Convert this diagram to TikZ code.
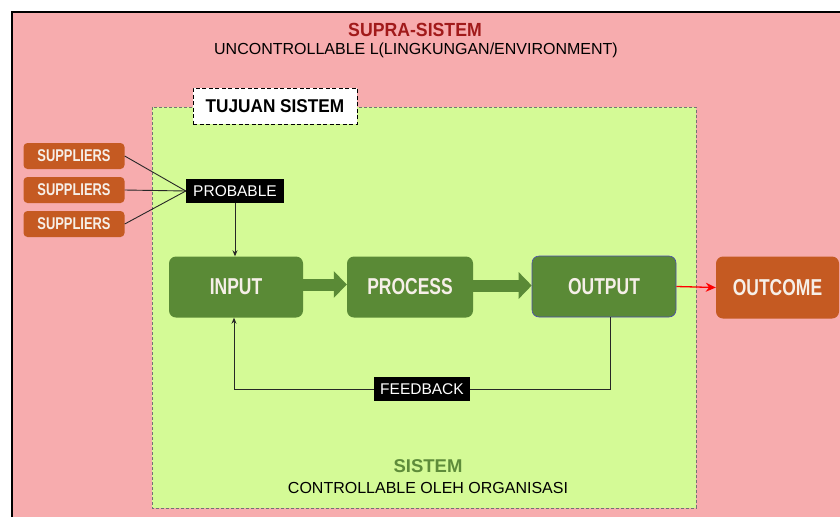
\documentclass[tikz,border=0pt]{standalone}
\usepackage{fontspec}
\setmainfont{Liberation Sans}
\newfontfamily\cond[FakeStretch=0.76]{Liberation Sans}
\newfontfamily\condb[FakeStretch=0.93]{Liberation Sans}
\usetikzlibrary{arrows.meta}
\definecolor{pinkbg}{HTML}{F7ACAE}
\definecolor{limebg}{HTML}{D4FA96}
\definecolor{orangebox}{HTML}{C55A22}
\definecolor{greenbox}{HTML}{5A8A36}
\definecolor{darkred}{HTML}{A11A1A}
\definecolor{sisgreen}{HTML}{5E8C3A}
\definecolor{boxtext}{HTML}{F6EFE8}
\tikzset{
  supbox/.style={fill=orangebox, rounded corners=4pt, inner sep=0pt, minimum width=101pt, minimum height=26pt,
    text=boxtext, font=\cond\bfseries\fontsize{17}{19}\selectfont},
  mainbox/.style={fill=greenbox, rounded corners=7pt, inner sep=0pt, minimum height=61pt,
    text=boxtext, font=\cond\bfseries\fontsize{23}{26}\selectfont},
  blackbox/.style={fill=black, inner sep=0pt, minimum height=24pt, text=white,
    font=\fontsize{15.5}{18}\selectfont},
  conn/.style={draw=black!85, line width=0.9pt},
  bigarrow/.style={draw=greenbox, line width=12pt, -{Triangle[length=13pt,width=26pt]}},
}
\begin{document}
\begin{tikzpicture}[x=1pt,y=-1pt]
\useasboundingbox (0,0) rectangle (840,517);
\fill[white] (0,0) rectangle (840,517);
% supra-system frame
\fill[pinkbg] (12,12) rectangle (840,517);
\draw[line width=2pt] (12,517) -- (12,12) -- (840,12);
\node[font=\condb\bfseries\fontsize{19}{22}\selectfont, text=darkred] (supra) at (415,30) {SUPRA-SISTEM};
\node[font=\fontsize{16}{18}\selectfont] (unc) at (416,50) {UNCONTROLLABLE L(LINGKUNGAN/ENVIRONMENT)};
% system area
\fill[limebg] (152,107) rectangle (696,508);
\draw[gray!90!black, dashed, line width=0.9pt, dash pattern=on 3pt off 2pt] (152,107) rectangle (696,508);
\node[draw=black, dashed, dash pattern=on 4pt off 2.5pt, line width=1pt, fill=white, inner sep=0pt,
  minimum width=164pt, minimum height=36pt, font=\condb\bfseries\fontsize{18.5}{22}\selectfont] (tujuan) at (275,106) {TUJUAN SISTEM};
\node[font=\bfseries\fontsize{18.5}{22}\selectfont, text=sisgreen] (sis) at (428,466) {SISTEM};
\node[font=\fontsize{16}{18}\selectfont] (ctrl) at (428,488) {CONTROLLABLE OLEH ORGANISASI};
% suppliers
\node[supbox] (s1) at (74,156) {SUPPLIERS};
\node[supbox] (s2) at (74,190) {SUPPLIERS};
\node[supbox] (s3) at (74,224) {SUPPLIERS};
\node[blackbox, minimum width=98pt] (prob) at (235,191) {PROBABLE};
\draw[conn] (s1.east) -- (prob.west);
\draw[conn] (s2.east) -- (prob.west);
\draw[conn] (s3.east) -- (prob.west);
% main flow
\node[mainbox, minimum width=134pt] (inp) at (236,287) {INPUT};
\node[mainbox, minimum width=126pt] (proc) at (410,287) {PROCESS};
\node[mainbox, minimum width=144pt, draw=blue!40!gray, line width=0.6pt] (outp) at (604,286.5) {OUTPUT};
\node[mainbox, fill=orangebox, minimum width=123pt, minimum height=62pt] (outc) at (777.5,287.5) {OUTCOME};
\draw[conn, -{Stealth[length=6pt,width=5pt]}] (prob.south) -- (prob.south |- inp.north);
\draw[bigarrow] ([yshift=2.5pt]inp.east) -- ([yshift=2.5pt]proc.west);
\draw[bigarrow] ([yshift=1.5pt]proc.east) -- ([yshift=1pt]outp.west);
\draw[red, line width=1.3pt, -{Stealth[length=10pt,width=9pt]}] (outp.east) -- (outc.west);
% feedback
\node[blackbox, minimum width=96pt] (fb) at (422,389) {FEEDBACK};
\draw[conn] ([xshift=6pt]outp.south) |- (fb.east);
\draw[conn, -{Stealth[length=6pt,width=5pt]}] (fb.west) -| ([xshift=-2pt]inp.south);
\end{tikzpicture}
\end{document}
